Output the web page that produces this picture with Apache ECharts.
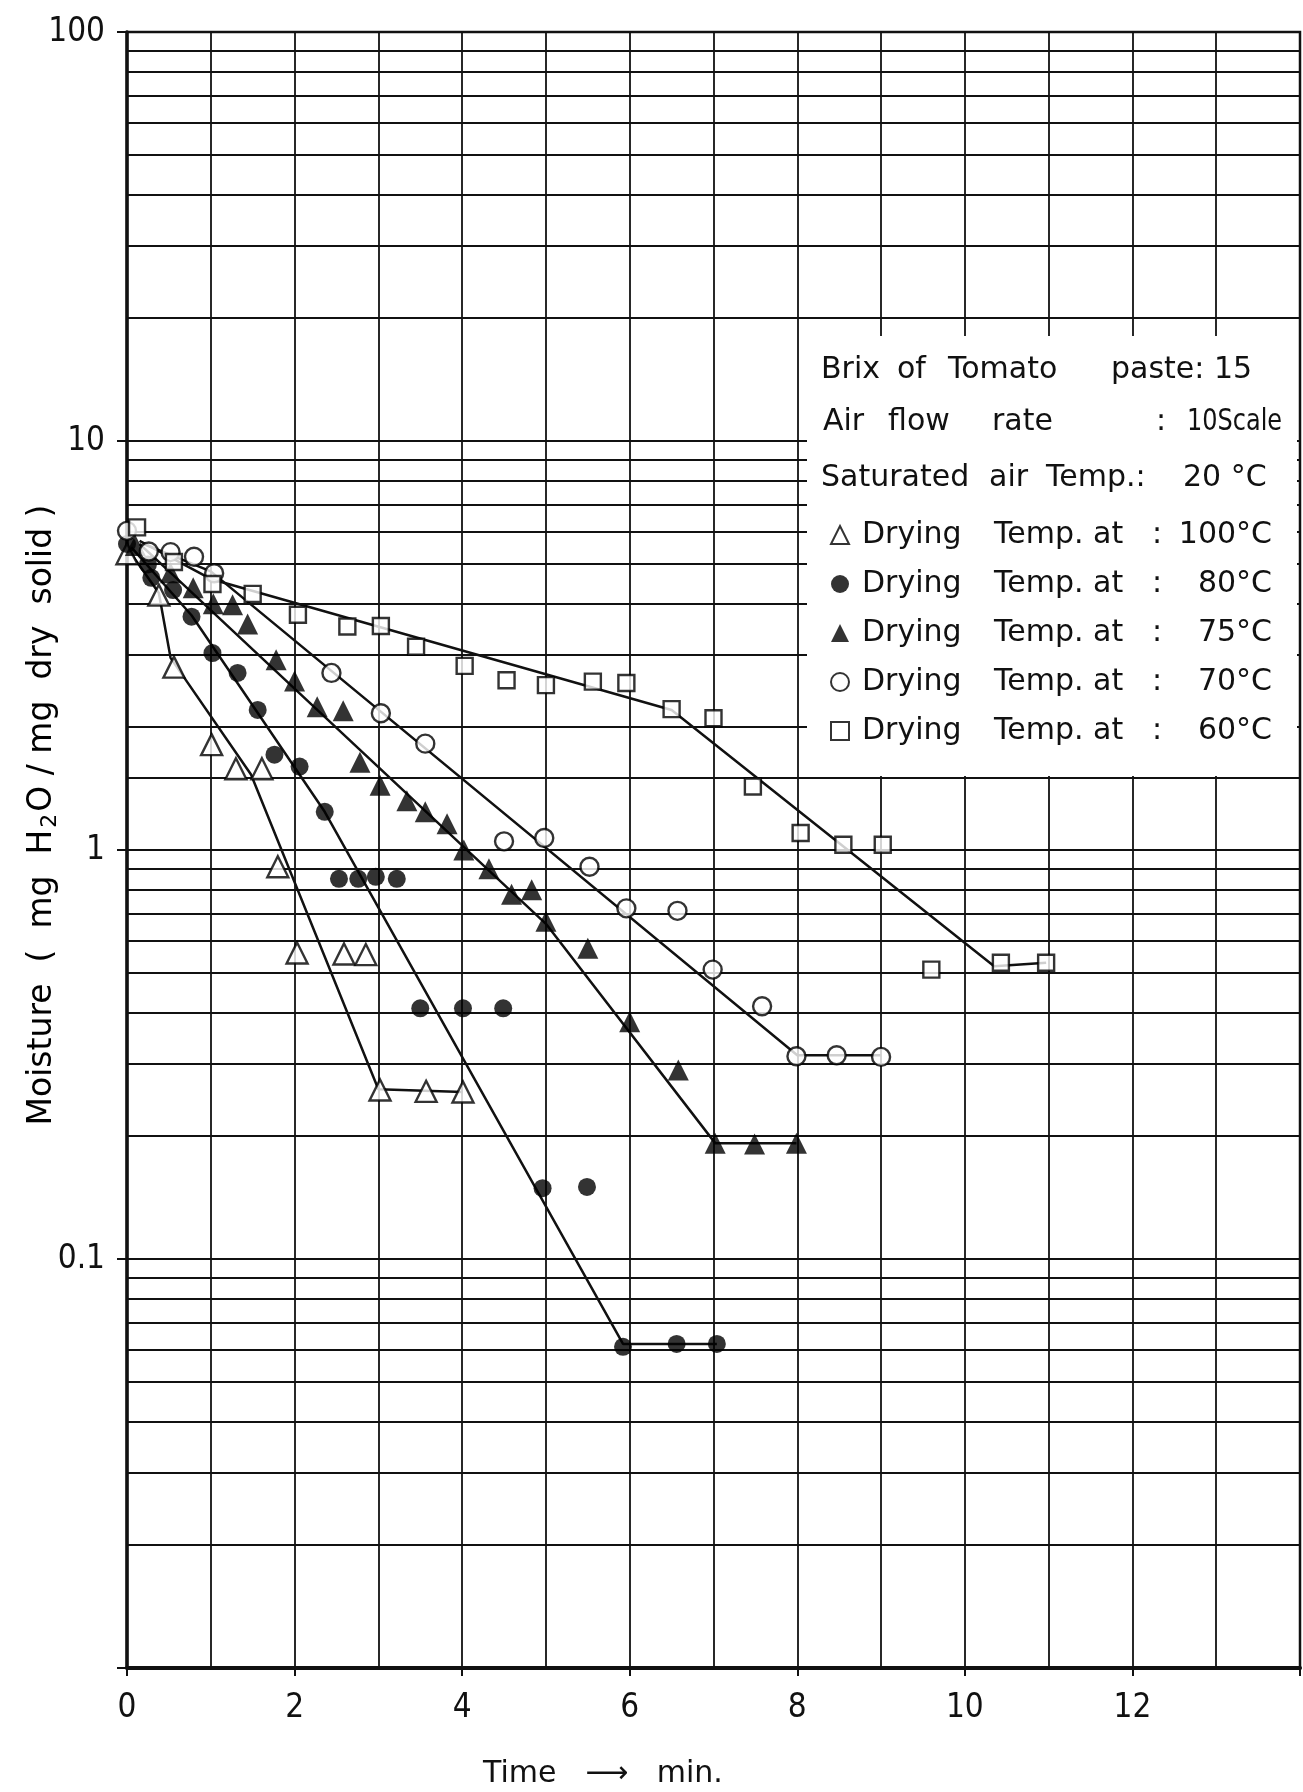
<!DOCTYPE html>
<html>
<head>
<meta charset="utf-8">
<script src="https://cdn.jsdelivr.net/npm/echarts@6/dist/echarts.min.js"></script>
<style>
html, body { margin: 0; padding: 0; background: #fff; }
#chart { width: 1303px; height: 1792px; }
</style>
</head>
<body>
<div id="chart"></div>
<script>
// drying temperatures, one series each
const temps = ['100°C', '80°C', '75°C', '70°C', '60°C']
const symbols = ['triangle', 'circle', 'triangle', 'circle', 'rect']
const filled = [false, true, true, false, false]
const sizes = [21, 18, 21, 18, 16]

// measured points: [time (min), moisture (mg H2O / mg dry solid)]
const dry100 = [[0, 5.3], [0.38, 4.2], [0.56, 2.8], [1.01, 1.81], [1.3, 1.58], [1.61, 1.58], [1.8, 0.91],
  [2.03, 0.56], [2.59, 0.557], [2.85, 0.555], [3.02, 0.259], [3.57, 0.257], [4.01, 0.256]]
const dry80 = [[0, 5.6], [0.25, 4.99], [0.29, 4.63], [0.55, 4.32], [0.77, 3.72], [1.02, 3.03], [1.32, 2.71],
  [1.56, 2.2], [1.76, 1.71], [2.06, 1.6], [2.36, 1.24], [2.53, 0.85], [2.76, 0.85], [2.97, 0.86], [3.22, 0.85],
  [3.5, 0.41], [4.01, 0.41], [4.49, 0.41], [4.96, 0.149], [5.49, 0.15], [5.92, 0.061], [6.56, 0.062], [7.04, 0.062]]
const dry75 = [[0.1, 5.55], [0.52, 4.76], [0.79, 4.38], [1.03, 4.0], [1.26, 3.98], [1.44, 3.57], [1.78, 2.92],
  [2.0, 2.59], [2.27, 2.24], [2.58, 2.19], [2.78, 1.64], [3.02, 1.44], [3.34, 1.32], [3.56, 1.24], [3.82, 1.16],
  [4.02, 1.0], [4.32, 0.9], [4.59, 0.78], [4.83, 0.8], [5.0, 0.67], [5.5, 0.575], [6.0, 0.38], [6.58, 0.29],
  [7.02, 0.192], [7.49, 0.191], [7.99, 0.192]]
const dry70 = [[0, 6.03], [0.26, 5.37], [0.52, 5.35], [0.8, 5.21], [1.04, 4.75], [2.44, 2.71], [3.03, 2.16],
  [3.56, 1.82], [4.5, 1.05], [4.98, 1.07], [5.52, 0.91], [5.96, 0.72], [6.57, 0.71], [6.99, 0.51], [7.58, 0.415],
  [7.99, 0.313], [8.47, 0.315], [9.0, 0.312]]
const dry60 = [[0.12, 6.15], [0.56, 5.06], [1.02, 4.47], [1.5, 4.23], [2.04, 3.76], [2.63, 3.52], [3.03, 3.53],
  [3.45, 3.14], [4.03, 2.82], [4.53, 2.6], [5.0, 2.53], [5.56, 2.58], [5.96, 2.56], [6.5, 2.21], [7.0, 2.1],
  [7.47, 1.43], [8.04, 1.1], [8.55, 1.03], [9.02, 1.03], [9.6, 0.51], [10.43, 0.53], [10.97, 0.53]]

// hand-drawn fitted lines (vertices)
const fit100 = [[0.05, 5.3], [0.38, 4.25], [0.52, 2.95], [1.48, 1.53], [3.0, 0.26], [4.01, 0.256]]
const fit80 = [[0.05, 5.5], [0.77, 3.75], [2.36, 1.24], [5.92, 0.062], [7.04, 0.062]]
const fit75 = [[0.15, 5.6], [0.6, 4.6], [5.0, 0.66], [7.02, 0.192], [7.99, 0.192]]
const fit70 = [[0.2, 5.6], [1.0, 4.8], [8.0, 0.315], [9.0, 0.315]]
const fit60 = [[0.15, 5.7], [1.0, 4.6], [6.5, 2.2], [10.35, 0.52], [10.97, 0.53]]

const points = [dry100, dry80, dry75, dry70, dry60]
const fits = [fit100, fit80, fit75, fit70, fit60]

// log paper rulings
const decades = [0.01, 0.1, 1, 10]
const minorSteps = [2, 3, 4, 5, 6, 7, 8, 9]
const extraRulings = [1.5]
const yTickLabels = ['0.1', '1', '10', '100']

const ink = '#111'
const labelFont = "'Liberation Sans Narrow', 'DejaVu Sans Condensed', 'DejaVu Sans', sans-serif"
const textFont = "'DejaVu Sans', sans-serif"

const rulings = []
decades.forEach(d => minorSteps.forEach(s => rulings.push(+(d * s).toPrecision(3))))
extraRulings.forEach(v => rulings.push(v))

const chart = echarts.init(document.getElementById('chart'))

const series = []
fits.forEach((f, i) => {
  series.push({
    name: 'fit ' + temps[i],
    type: 'line',
    data: f,
    showSymbol: false,
    symbol: 'none',
    z: 3,
    lineStyle: { color: ink, width: 2.5 },
    markLine: i === 0 ? {
      silent: true,
      symbol: ['none', 'none'],
      label: { show: false },
      animation: false,
      lineStyle: { color: ink, width: 1.8, type: 'solid' },
      data: rulings.map(v => ({ yAxis: v }))
    } : undefined
  })
})
points.forEach((p, i) => {
  series.push({
    name: temps[i],
    type: 'scatter',
    data: p,
    symbol: symbols[i],
    symbolSize: sizes[i],
    z: 5,
    itemStyle: filled[i]
      ? { color: '#000', borderColor: '#000', borderWidth: 0 }
      : { color: '#fff', borderColor: '#000', borderWidth: 2.4 }
  })
})

const txt = (text, x, y, size, extra) => ({
  type: 'text', z: 20, x, y,
  ...(extra || {}),
  style: { text, font: `${size || 30}px ${textFont}`, fill: ink, verticalAlign: 'middle' }
})

const option = {
  animation: false,
  backgroundColor: '#fff',
  grid: {
    left: 127, right: 3, top: 32, bottom: 124,
    show: true, borderColor: ink, borderWidth: 2.5
  },
  xAxis: {
    type: 'value',
    min: 0,
    max: 14,
    interval: 2,
    axisLine: { lineStyle: { color: ink, width: 4 } },
    axisTick: { show: true, length: 8, lineStyle: { color: ink, width: 2 } },
    axisLabel: {
      margin: 24,
      color: ink,
      fontSize: 33,
      fontFamily: labelFont,
      formatter: v => (v >= 14 ? '' : String(v))
    },
    splitLine: { show: true, lineStyle: { color: ink, width: 1.8 } },
    minorTick: { show: false, splitNumber: 2 },
    minorSplitLine: { show: true, lineStyle: { color: ink, width: 1.8 } }
  },
  yAxis: {
    type: 'log',
    logBase: 10,
    min: 0.01,
    max: 100,
    axisLine: { lineStyle: { color: ink, width: 3.5 } },
    axisTick: { show: true, length: 10, lineStyle: { color: ink, width: 2 } },
    axisLabel: {
      margin: 22,
      color: ink,
      fontSize: 33,
      fontFamily: labelFont,
      formatter: v => {
        const s = String(+(+v).toPrecision(3))
        return yTickLabels.includes(s) ? s : ''
      }
    },
    splitLine: { show: true, lineStyle: { color: ink, width: 1.8 } }
  },
  legend: {
    data: temps,
    orient: 'vertical',
    left: 825,
    top: 513,
    z: 20,
    itemWidth: 18,
    itemHeight: 18,
    itemGap: 15,
    selectedMode: false,
    textStyle: {
      color: ink,
      fontFamily: textFont,
      fontSize: 30,
      lineHeight: 34,
      rich: {
        p: { width: 8, fontSize: 30, fontFamily: textFont, lineHeight: 34 },
        a: { width: 132, fontSize: 30, fontFamily: textFont, lineHeight: 34, color: ink },
        b: { width: 158, fontSize: 30, fontFamily: textFont, lineHeight: 34, color: ink },
        c: { width: 14, fontSize: 30, fontFamily: textFont, lineHeight: 34, color: ink },
        d: { width: 106, align: 'right', fontSize: 30, fontFamily: textFont, lineHeight: 34, color: ink }
      }
    },
    formatter: name => `{p| }{a|Drying}{b|Temp. at}{c|:}{d|${name}}`
  },
  graphic: [
    {
      type: 'rect', z: 10, silent: true,
      shape: { x: 807, y: 336, width: 490, height: 440 },
      style: { fill: '#fff' }
    },
    txt('Brix', 821, 370),
    txt('of', 897, 370),
    txt('Tomato', 948, 370),
    txt('paste: 15', 1111, 370),
    txt('Air', 823, 422),
    txt('flow', 888, 422),
    txt('rate', 992, 422),
    txt(':', 1156, 422),
    txt('10Scale', 1187, 422, 30, { scaleX: 0.8 }),
    txt('Saturated', 821, 478),
    txt('air', 989, 478),
    txt('Temp.:', 1046, 478),
    txt('20 °C', 1183, 478),
    {
      type: 'text', z: 20, x: 42, y: 815, rotation: Math.PI / 2,
      style: {
        text: '{t|Moisture  (  mg  H}{s|2}{t|O / mg  dry  solid )}',
        align: 'center', verticalAlign: 'middle',
        rich: {
          t: { fontSize: 33, fontFamily: textFont, color: ink },
          s: { fontSize: 22, fontFamily: textFont, color: ink, padding: [16, 2, 0, 2] }
        }
      }
    },
    {
      type: 'text', z: 20, x: 603, y: 1774,
      style: { text: 'Time   ⟶   min.', font: `30px ${textFont}`, fill: ink, align: 'center', verticalAlign: 'middle' }
    }
  ],
  series
}

chart.setOption(option)
</script>
</body>
</html>
